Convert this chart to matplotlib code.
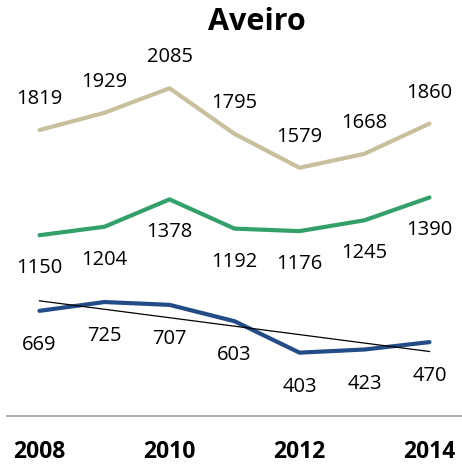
import numpy as np
import matplotlib.pyplot as plt

plt.rcParams['font.family'] = ['Open Sans', 'DejaVu Sans']

years = [2008, 2009, 2010, 2011, 2012, 2013, 2014]
beige = [1819, 1929, 2085, 1795, 1579, 1668, 1860]
green = [1150, 1204, 1378, 1192, 1176, 1245, 1390]
blue = [669, 725, 707, 603, 403, 423, 470]
tick_years = [2008, 2010, 2012, 2014]

fig = plt.figure(figsize=(4.62, 4.67), dpi=100)
ax = fig.add_axes([7 / 462, 51 / 467, 455 / 462, 393 / 467])

x = np.arange(len(years))

series = [
    (beige, '#C8BF9C', 31),
    (green, '#33A06A', -33),
    (blue, '#234C87', -34),
]
for vals, col, off in series:
    ax.plot(x, vals, color=col, linewidth=3.0, solid_capstyle='round', zorder=2)
    for xi, v in zip(x, vals):
        ax.annotate(str(v), (xi, v), xytext=(0, off), textcoords='offset pixels',
                    ha='center', va='center', fontsize=14.5, color='black')

# linear trend on the lowest series
k, b = np.polyfit(x, blue, 1)
ax.plot(x, k * x + b, color='black', linewidth=0.9, zorder=3)

ax.set_xlim(-0.5, 6.5)
ax.set_ylim(0, 2500)
ax.set_xticks([years.index(y) for y in tick_years])
ax.set_xticklabels([str(y) for y in tick_years], fontsize=16.5, fontweight='bold')
ax.tick_params(axis='x', length=0, pad=17)
ax.set_yticks([])
for s in ['top', 'right', 'left']:
    ax.spines[s].set_visible(False)
ax.spines['bottom'].set_color('#9E9E9E')
ax.spines['bottom'].set_linewidth(1.2)

fig.text(257 / 462, 1 - 22 / 467, 'Aveiro', ha='center', va='center',
         fontsize=22, fontweight='bold')

fig.savefig('out.png', dpi=100)
